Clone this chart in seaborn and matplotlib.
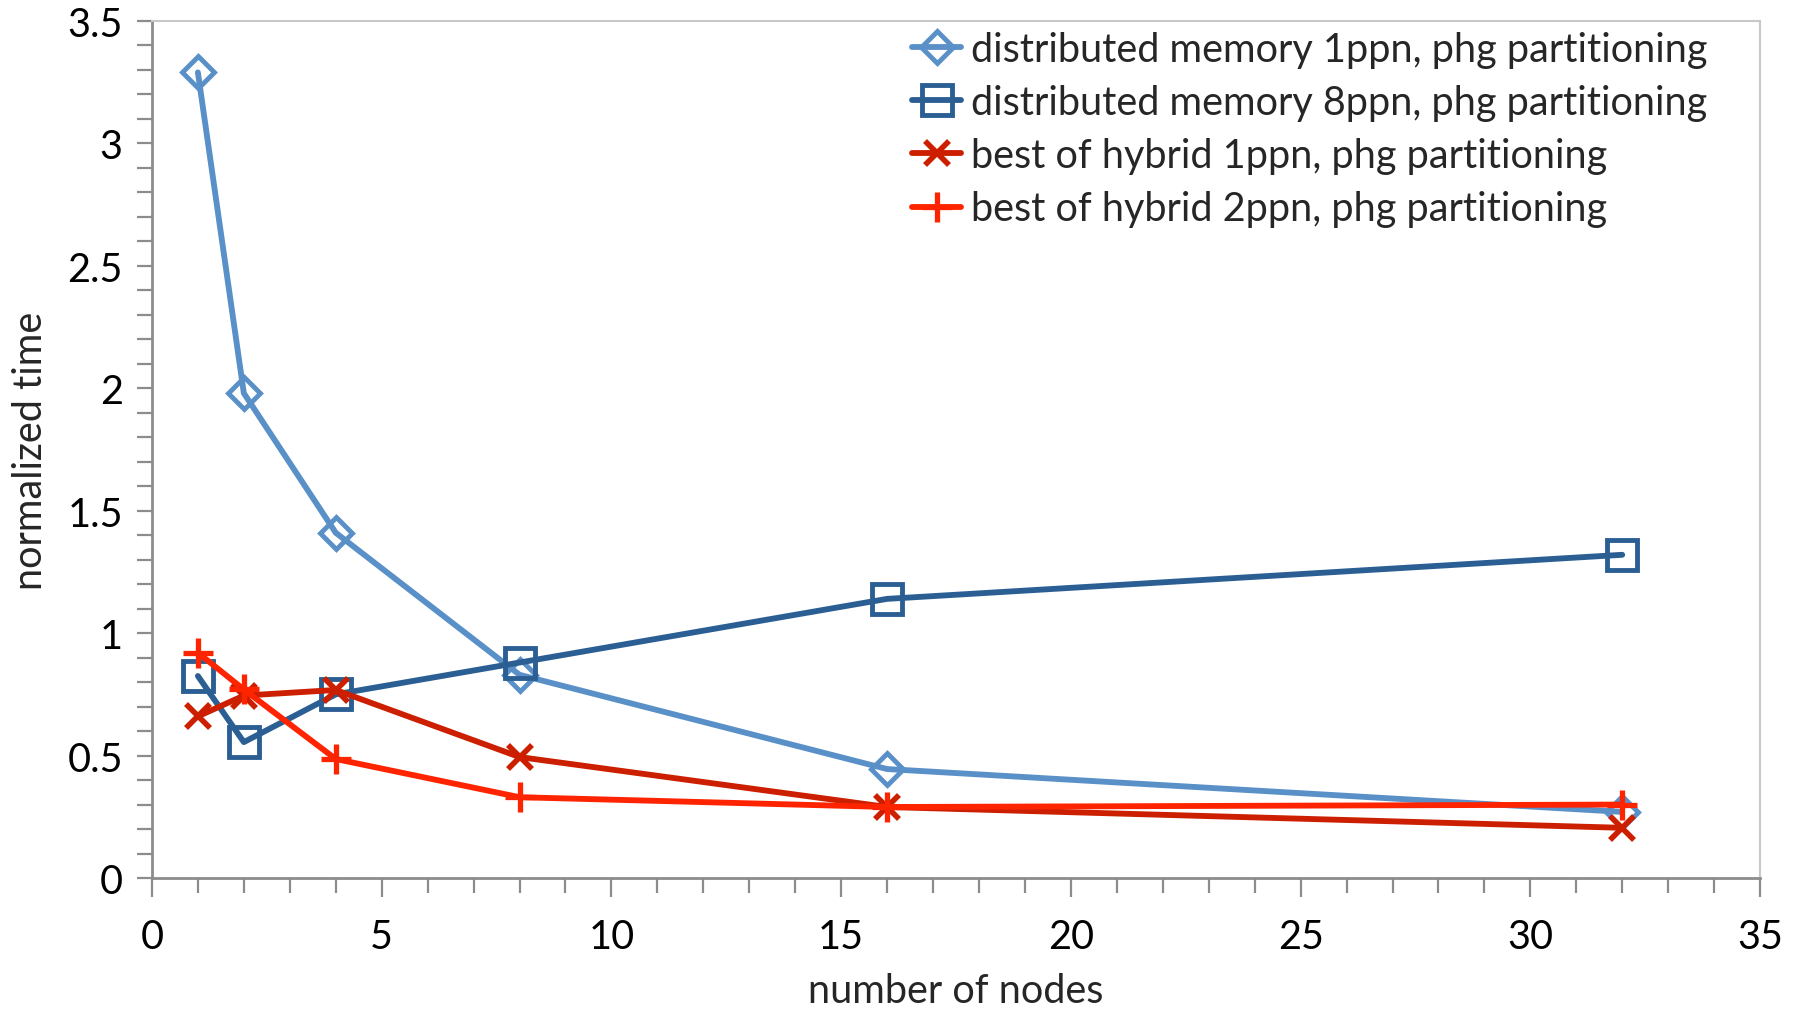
import matplotlib
matplotlib.use("Agg")
import matplotlib.pyplot as plt
from matplotlib.ticker import MultipleLocator
import numpy as np
import pandas as pd
import seaborn as sns

# Node counts and normalized run times per configuration
nodes = [1, 2, 4, 8, 16, 32]
dm_1ppn = [3.29, 1.98, 1.41, 0.83, 0.445, 0.27]
dm_8ppn = [0.825, 0.555, 0.75, 0.88, 1.14, 1.32]
hyb_1ppn = [0.66, 0.745, 0.768, 0.494, 0.29, 0.205]
hyb_2ppn = [0.92, 0.77, 0.486, 0.33, 0.29, 0.30]

labels = [
    "distributed memory 1ppn, phg partitioning",
    "distributed memory 8ppn, phg partitioning",
    "best of hybrid 1ppn, phg partitioning",
    "best of hybrid 2ppn, phg partitioning",
]
series_values = [dm_1ppn, dm_8ppn, hyb_1ppn, hyb_2ppn]
ytick_labels = ["0", "0.5", "1", "1.5", "2", "2.5", "3", "3.5"]

df = pd.DataFrame(
    [(lab, n, v) for lab, vals in zip(labels, series_values) for n, v in zip(nodes, vals)],
    columns=["config", "nodes", "time"],
)

sns.set_theme(style="white")
plt.rcParams["font.family"] = ["Lato", "DejaVu Sans"]

FS = 28.5
colors = ["#5A90C8", "#2B5F94", "#CC1F00", "#FF2400"]
styles = [
    dict(marker="D", markersize=16, markerfacecolor="none", markeredgewidth=3.5),
    dict(marker="s", markersize=21, markerfacecolor="none", markeredgewidth=3.5),
    dict(marker="x", markersize=17, markeredgewidth=4.0),
    dict(marker="+", markersize=22, markeredgewidth=3.8),
]

fig = plt.figure(figsize=(17.96, 10.12), dpi=100)
ax = fig.add_axes([0.0846, 0.1314, 0.8954, 0.8469])

for lab, col, st in zip(labels, colors, styles):
    sub = df[df["config"] == lab]
    sns.lineplot(
        data=sub, x="nodes", y="time", ax=ax, color=col, linewidth=4.2,
        markeredgecolor=col, label=lab, **st,
    )

ax.set_xlim(0, 35)
ax.set_ylim(0, 3.5)
ax.xaxis.set_major_locator(MultipleLocator(5))
ax.xaxis.set_minor_locator(MultipleLocator(1))
ax.yaxis.set_minor_locator(MultipleLocator(0.1))
ax.set_yticks([float(t) for t in ytick_labels])
ax.set_yticklabels(ytick_labels)

ax.tick_params(axis="both", which="both", direction="out", colors="#8C8C8C",
               labelcolor="black", labelsize=FS, width=1.6)
ax.tick_params(axis="y", which="both", length=11, pad=10, left=True)
ax.tick_params(axis="x", which="major", length=14, pad=15, bottom=True)
ax.tick_params(axis="x", which="minor", length=11, bottom=True)

for side in ["left", "bottom"]:
    ax.spines[side].set_color("#8C8C8C")
    ax.spines[side].set_linewidth(2.0)
for side in ["top", "right"]:
    ax.spines[side].set_color("#C8C8C8")
    ax.spines[side].set_linewidth(1.5)

ax.set_xlabel("number of nodes", fontsize=FS)
ax.set_ylabel("normalized time", fontsize=FS)
ax.xaxis.set_label_coords(0.5, -0.110)
ax.yaxis.set_label_coords(-0.064, 0.5)

ax.legend(
    loc="upper left", bbox_to_anchor=(0.508, 0.9686), bbox_transform=fig.transFigure,
    frameon=False, fontsize=FS, handlelength=1.24, handletextpad=0.23,
    labelspacing=0.41, borderaxespad=0, borderpad=0,
)

fig.savefig("out.png", dpi=100)
